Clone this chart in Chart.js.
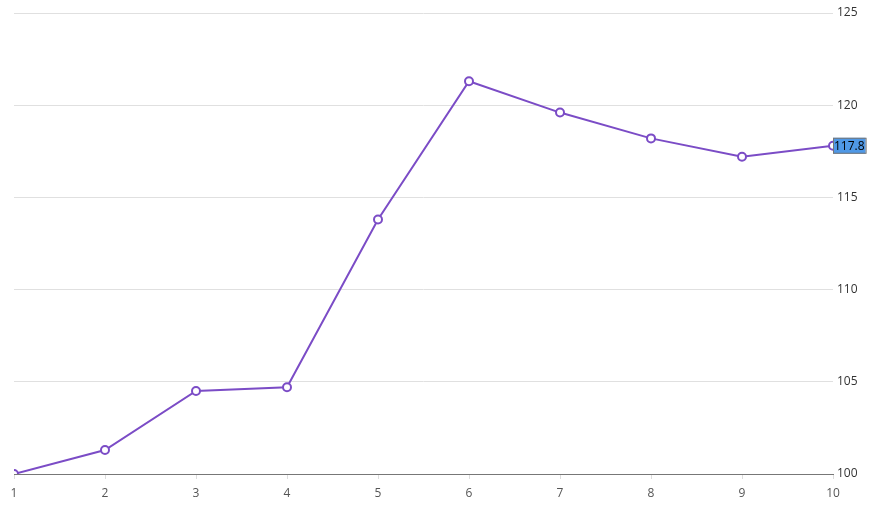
<!DOCTYPE html>
<html>
<head>
<meta charset="UTF-8">
<script src="https://cdn.jsdelivr.net/npm/chart.js"></script>
<style>
  html, body { margin: 0; padding: 0; background: #fff; }
  #wrap { width: 871px; height: 506px; }
</style>
</head>
<body>
<div id="wrap"><canvas id="c"></canvas></div>
<script>
  const labels = ["1", "2", "3", "4", "5", "6", "7", "8", "9", "10"];
  const values = [100, 101.3, 104.5, 104.7, 113.8, 121.3, 119.6, 118.2, 117.2, 117.8];
  const lastLabel = "117.8";

  const purple = "#7b4cc6";

  // метка последнего значения на правой оси
  const lastValue = {
    id: "lastValue",
    afterDraw(chart) {
      const ctx = chart.ctx;
      const y = chart.scales.y.getPixelForValue(values[values.length - 1]);
      const x = chart.chartArea.right;
      ctx.save();
      ctx.font = "12px 'Open Sans', sans-serif";
      const w = ctx.measureText(lastLabel).width + 2;
      ctx.fillStyle = "#4f98e6";
      ctx.fillRect(x, y - 8, w, 16);
      ctx.strokeStyle = "#777";
      ctx.lineWidth = 1;
      ctx.strokeRect(x + 0.5, y - 7.5, w, 15);
      ctx.fillStyle = "#000";
      ctx.textBaseline = "middle";
      ctx.fillText(lastLabel, x + 1, y + 1);
      ctx.restore();
    }
  };

  new Chart(document.getElementById("c"), {
    type: "line",
    data: {
      labels: labels,
      datasets: [{
        data: values,
        borderColor: purple,
        borderWidth: 2,
        pointRadius: 4,
        pointBorderWidth: 2,
        pointBackgroundColor: "#fff",
        pointBorderColor: purple,
        tension: 0,
        clip: 0
      }]
    },
    options: {
      responsive: true,
      maintainAspectRatio: false,
      animation: false,
      layout: { padding: { left: 14, top: 13, right: 0, bottom: 0 } },
      plugins: { legend: { display: false }, tooltip: { enabled: false } },
      scales: {
        x: {
          offset: false,
          grid: { drawOnChartArea: false, drawTicks: true, tickLength: 5, color: "#ddd" },
          border: { color: "#777" },
          ticks: { color: "#555", font: { family: "'Open Sans', sans-serif", size: 12 }, padding: 7, maxRotation: 0 },
          afterFit: s => { s.height = 32; }
        },
        y: {
          position: "right",
          min: 100,
          max: 125,
          ticks: { stepSize: 5, color: "#333", font: { family: "'Open Sans', sans-serif", size: 12 }, padding: 4 },
          grid: { color: "#e0e0e0", drawTicks: false },
          border: { display: false },
          afterFit: s => { s.width = 38; }
        }
      }
    },
    plugins: [lastValue]
  });
</script>
</body>
</html>
